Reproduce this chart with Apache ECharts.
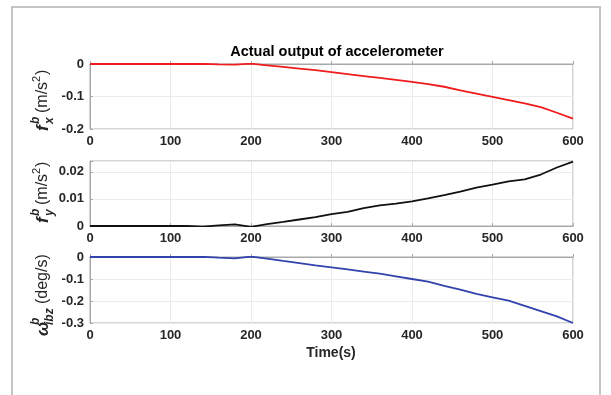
<!DOCTYPE html>
<html>
<head>
<meta charset="utf-8">
<script src="https://cdn.jsdelivr.net/npm/echarts@6/dist/echarts.min.js"></script>
<style>
  html, body { margin: 0; padding: 0; background: #fff; }
  #chart { width: 611px; height: 395px; }
</style>
</head>
<body>
<div id="chart"></div>
<script>
// Sample times (s)
const timeS = [0, 20, 40, 60, 80, 100, 120, 140, 160, 180, 200, 220, 240, 260, 280, 300,
  320, 340, 360, 380, 400, 420, 440, 460, 480, 500, 520, 540, 560, 580, 600];

// Specific force along body x (m/s^2)
const fxB = [0, 0, 0, 0, 0, 0, 0, 0.0005, -0.001, -0.002, 0.001, -0.004, -0.009, -0.014, -0.019, -0.025,
  -0.031, -0.037, -0.043, -0.049, -0.055, -0.062, -0.070, -0.081, -0.091, -0.101, -0.111, -0.121, -0.133, -0.150, -0.168];

// Specific force along body y (m/s^2)
const fyB = [0, 0, 0, 0, 0, 0, 0, -0.0002, 0.0002, 0.0006, -0.0003, 0.0007, 0.0015, 0.0024, 0.0033, 0.0044,
  0.0052, 0.0066, 0.0076, 0.0083, 0.0091, 0.0102, 0.0114, 0.0127, 0.0142, 0.0153, 0.0165, 0.0172, 0.0190, 0.0216, 0.0238];

// Angular rate about body z (deg/s)
const wzB = [0, 0, 0, 0, 0, 0, 0, 0.001, -0.003, -0.006, 0.002, -0.007, -0.018, -0.028, -0.038, -0.047,
  -0.056, -0.066, -0.076, -0.088, -0.100, -0.112, -0.131, -0.148, -0.168, -0.183, -0.198, -0.222, -0.246, -0.270, -0.300];

const xTicks = [0, 100, 200, 300, 400, 500, 600];

const FONT = '"Liberation Sans", Arial, Helvetica, sans-serif';
const TXT = '#262626';
const BOX = '#a8a8a8';
const GRIDLINE = '#ebebeb';

const grids = [
  { left: 90, right: 38, top: 64, height: 65 },
  { left: 90, right: 38, top: 161, height: 65 },
  { left: 90, right: 38, top: 257, height: 66 }
].map(g => Object.assign({ show: true, borderColor: BOX, borderWidth: 1, backgroundColor: '#fff' }, g));

function xAxis(i) {
  return {
    type: 'value', gridIndex: i, min: 0, max: 600, interval: 100,
    axisLine: { show: true, lineStyle: { color: BOX } },
    axisTick: { show: true, inside: true, length: 3, lineStyle: { color: BOX } },
    splitLine: { show: true, lineStyle: { color: GRIDLINE } },
    axisLabel: { color: TXT, fontFamily: FONT, fontWeight: 'bold', fontSize: 13, margin: 6,
      formatter: v => (xTicks.indexOf(v) >= 0 ? String(v) : '') }
  };
}

function yAxis(i, min, max, interval, fmt) {
  return {
    type: 'value', gridIndex: i, min: min, max: max, interval: interval,
    axisLine: { show: true, lineStyle: { color: BOX } },
    axisTick: { show: true, inside: true, length: 3, lineStyle: { color: BOX } },
    splitLine: { show: true, lineStyle: { color: GRIDLINE } },
    axisLabel: { color: TXT, fontFamily: FONT, fontWeight: 'bold', fontSize: 13, margin: 6, formatter: fmt }
  };
}

const fmtTenth = v => {
  const r = Math.round(v * 10) / 10;
  if (Math.abs(v - r) > 1e-9) return '';
  return r === 0 ? '0' : r.toFixed(1);
};
const fmtHundredth = v => {
  const r = Math.round(v * 100) / 100;
  if (Math.abs(v - r) > 1e-9) return '';
  return r === 0 ? '0' : r.toFixed(2);
};

function pairs(ys) { return timeS.map((t, k) => [t, ys[k]]); }

function lineSeries(i, ys, color) {
  return {
    type: 'line', xAxisIndex: i, yAxisIndex: i, data: pairs(ys),
    showSymbol: false, symbol: 'none', smooth: false,
    lineStyle: { color: color, width: 1.8 }, silent: true, animation: false
  };
}

// Rotated y-axis names built from pieces (main glyph, stacked super/subscript, unit)
function txt(text, x, y, size, opts) {
  opts = opts || {};
  return {
    type: 'text', x: x, y: y,
    style: {
      text: text, fill: TXT,
      font: (opts.italic ? 'italic ' : '') + (opts.bold ? 'bold ' : '') + size + 'px ' + FONT,
      textAlign: 'left', textVerticalAlign: 'middle', align: 'left', verticalAlign: 'middle'
    }
  };
}

function axisName(cx, cy, main, sup, sub, scriptX, unitX, unitParts) {
  const children = [];
  children.push(txt(main, 0, 0, 17, { italic: true, bold: true }));
  children.push(txt(sup, scriptX, -7, 12, { italic: true, bold: true }));
  children.push(txt(sub, scriptX, 7, 12, { italic: true, bold: true }));
  let ux = unitX;
  unitParts.forEach(p => {
    children.push(txt(p.t, ux, p.dy || 0, p.s || 16, {}));
    ux += p.w;
  });
  return { type: 'group', x: cx, y: cy, rotation: Math.PI / 2, children: children };
}

const option = {
  backgroundColor: '#fff',
  animation: false,
  title: {
    text: 'Actual output of accelerometer', left: 332, top: 39, textAlign: 'center',
    textStyle: { fontFamily: FONT, fontWeight: 'bold', fontSize: 14.5, color: '#000' }
  },
  grid: grids,
  xAxis: [xAxis(0), xAxis(1), xAxis(2)],
  yAxis: [
    yAxis(0, -0.2, 0, 0.1, fmtTenth),
    yAxis(1, 0, 0.024, 0.01, fmtHundredth),
    yAxis(2, -0.3, 0, 0.1, fmtTenth)
  ],
  series: [
    lineSeries(0, fxB, '#f01c1c'),
    lineSeries(1, fyB, '#111111'),
    lineSeries(2, wzB, '#3243ad')
  ],
  graphic: [
    { type: 'rect', shape: { x: 12, y: 7, width: 588, height: 400 }, style: { fill: 'none', stroke: '#c4c4c4', lineWidth: 2 }, silent: true },
    { type: 'text', x: 331, y: 353, style: { text: 'Time(s)', font: 'bold 14px ' + FONT, fill: TXT, textAlign: 'center', textVerticalAlign: 'middle', align: 'center', verticalAlign: 'middle' } },
    axisName(43, 131, 'f', 'b', 'x', 7, 18, [
      { t: '(m/s', w: 31 }, { t: '2', w: 7, s: 11, dy: -6 }, { t: ')', w: 5 }
    ]),
    axisName(43, 223, 'f', 'b', 'y', 7, 18, [
      { t: '(m/s', w: 31 }, { t: '2', w: 7, s: 11, dy: -6 }, { t: ')', w: 5 }
    ]),
    axisName(43, 336, '\u03c9', 'b', 'ibz', 11, 32, [
      { t: '(deg/s)', w: 48 }
    ])
  ]
};

const chart = echarts.init(document.getElementById('chart'), null, { renderer: 'canvas' });
chart.setOption(option);
</script>
</body>
</html>
